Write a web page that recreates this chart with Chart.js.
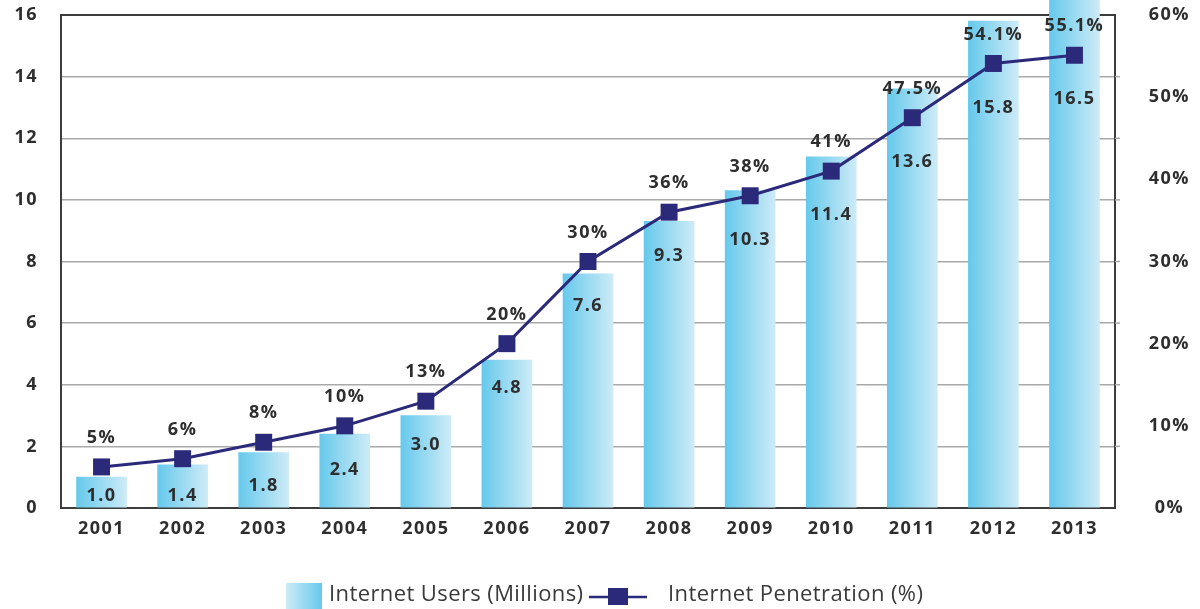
<!DOCTYPE html>
<html>
<head>
<meta charset="utf-8">
<script src="https://cdn.jsdelivr.net/npm/chart.js@4.4.1/dist/chart.umd.min.js"></script>
<style>
  html, body { margin: 0; padding: 0; background: #ffffff; }
  #wrap { width: 1200px; height: 609px; }
</style>
</head>
<body>
<div id="wrap"><canvas id="chart" width="1200" height="609"></canvas></div>
<script>
// Internet users and penetration, 2001-2013
const years = ['2001', '2002', '2003', '2004', '2005', '2006', '2007', '2008', '2009', '2010', '2011', '2012', '2013'];
const usersMillions = [1.0, 1.4, 1.8, 2.4, 3.0, 4.8, 7.6, 9.3, 10.3, 11.4, 13.6, 15.8, 16.5];
const penetrationPct = [5, 6, 8, 10, 13, 20, 30, 36, 38, 41, 47.5, 54.1, 55.1];
const usersTicks = [0, 2, 4, 6, 8, 10, 12, 14, 16];
const pctTicks = [0, 10, 20, 30, 40, 50, 60];

const usersLabel = 'Internet Users (Millions)';
const pctLabel = 'Internet Penetration (%)';

const NAVY = '#2b2a7a';
const TEXT = '#2e2e2e';
const FRAME = '#3c3c3c';
const GRID = '#a9a9a9';
const BAR_DARK = '#66c9ec';
const BAR_LIGHT = '#cdebf7';
const BOLD_FONT = { family: '"Open Sans", "DejaVu Sans", sans-serif', size: 18, weight: '700' };

// Horizontal cyan fade across each bar
function barGradient(context) {
  const chart = context.chart;
  const xs = chart.scales.x;
  if (!chart.chartArea || !xs) return BAR_DARK;
  const cx = xs.getPixelForValue(context.dataIndex);
  const g = chart.ctx.createLinearGradient(cx - 25, 0, cx + 25, 0);
  g.addColorStop(0, BAR_DARK);
  g.addColorStop(1, BAR_LIGHT);
  return g;
}

// Vertical axes take no extra room above or below the plot
function noVerticalPadding(s) {
  s.paddingTop = 0;
  s.paddingBottom = 0;
}

// Letter spacing for all canvas text
const spacingPlugin = {
  id: 'spacing',
  beforeDraw(chart) { chart.ctx.letterSpacing = '1.5px'; }
};

// Top edge of the frame and small grid stubs past the right edge
const framePlugin = {
  id: 'frame',
  beforeDatasetsDraw(chart) {
    const { ctx, chartArea: a } = chart;
    const ys = chart.scales.y;
    ctx.save();
    ctx.strokeStyle = GRID;
    ctx.lineWidth = 1.5;
    usersTicks.forEach(v => {
      if (v === 0 || v === 16) return;
      const py = ys.getPixelForValue(v);
      ctx.beginPath();
      ctx.moveTo(a.right, py);
      ctx.lineTo(a.right + 5, py);
      ctx.stroke();
    });
    ctx.strokeStyle = FRAME;
    ctx.lineWidth = 2;
    ctx.beginPath();
    ctx.moveTo(a.left - 1, a.top);
    ctx.lineTo(a.right + 1, a.top);
    ctx.stroke();
    ctx.restore();
  }
};

// Value labels: percentage above each marker, user count inside each bar
const valueLabelPlugin = {
  id: 'valueLabels',
  afterDatasetsDraw(chart) {
    const { ctx, chartArea: a } = chart;
    const xs = chart.scales.x;
    const y2 = chart.scales.y2;
    ctx.save();
    ctx.font = `${BOLD_FONT.weight} ${BOLD_FONT.size}px ${BOLD_FONT.family}`;
    ctx.fillStyle = TEXT;
    ctx.textAlign = 'center';
    ctx.textBaseline = 'middle';
    years.forEach((yr, i) => {
      const px = xs.getPixelForValue(i);
      const my = y2.getPixelForValue(penetrationPct[i]);
      ctx.fillText(penetrationPct[i] + '%', px, my - 29);
      const by = Math.min(my + 44, a.bottom - 12);
      ctx.fillText(usersMillions[i].toFixed(1), px, by);
    });
    ctx.restore();
  }
};

// Legend along the bottom edge
const legendPlugin = {
  id: 'bottomLegend',
  afterDraw(chart) {
    const ctx = chart.ctx;
    ctx.save();
    ctx.letterSpacing = '0.4px';
    const sw = ctx.createLinearGradient(286, 0, 322, 0);
    sw.addColorStop(0, BAR_LIGHT);
    sw.addColorStop(1, BAR_DARK);
    ctx.fillStyle = sw;
    ctx.fillRect(286, 583, 36, 26);

    ctx.font = '400 22px "Open Sans", "DejaVu Sans", sans-serif';
    ctx.fillStyle = '#3a3a3a';
    ctx.textAlign = 'left';
    ctx.textBaseline = 'middle';
    ctx.fillText(usersLabel, 329, 595);

    ctx.strokeStyle = NAVY;
    ctx.lineWidth = 2.5;
    ctx.beginPath();
    ctx.moveTo(589, 597);
    ctx.lineTo(647, 597);
    ctx.stroke();
    ctx.fillStyle = NAVY;
    ctx.fillRect(608, 588, 20, 17);

    ctx.fillStyle = '#3a3a3a';
    ctx.fillText(pctLabel, 668, 595);
    ctx.restore();
  }
};

new Chart(document.getElementById('chart'), {
  data: {
    labels: years,
    datasets: [
      {
        type: 'line',
        label: pctLabel,
        data: penetrationPct,
        yAxisID: 'y2',
        borderColor: NAVY,
        borderWidth: 3,
        backgroundColor: NAVY,
        pointStyle: 'rect',
        pointRadius: 12,
        pointBackgroundColor: NAVY,
        pointBorderColor: NAVY,
        pointBorderWidth: 0,
        tension: 0,
        order: 1,
        clip: false
      },
      {
        type: 'bar',
        label: usersLabel,
        data: usersMillions,
        yAxisID: 'y',
        backgroundColor: barGradient,
        borderWidth: 0,
        barThickness: 50,
        order: 2,
        clip: false
      }
    ]
  },
  options: {
    responsive: false,
    devicePixelRatio: 1,
    animation: false,
    layout: { padding: { top: 15, left: 0, right: 0, bottom: 0 } },
    plugins: {
      legend: { display: false },
      tooltip: { enabled: false }
    },
    scales: {
      x: {
        offset: true,
        grid: { display: false, drawTicks: false },
        border: { display: true, color: FRAME, width: 2 },
        ticks: { color: TEXT, font: BOLD_FONT, padding: 10, maxRotation: 0 },
        afterFit(s) { s.height = 101; s.paddingLeft = 0; s.paddingRight = 0; }
      },
      y: {
        position: 'left',
        min: 0,
        max: 16,
        afterBuildTicks(s) { s.ticks = usersTicks.map(v => ({ value: v })); },
        grid: { color: GRID, lineWidth: 1.5, drawTicks: false },
        border: { display: true, color: FRAME, width: 2 },
        ticks: { color: TEXT, font: BOLD_FONT, padding: 23 },
        afterFit(s) { s.width = 61; noVerticalPadding(s); }
      },
      y2: {
        position: 'right',
        min: 0,
        max: 60,
        afterBuildTicks(s) { s.ticks = pctTicks.map(v => ({ value: v })); },
        grid: { drawOnChartArea: false, drawTicks: false },
        border: { display: true, color: FRAME, width: 2 },
        ticks: { color: TEXT, font: BOLD_FONT, padding: 36, crossAlign: 'center', callback: v => v + '%' },
        afterFit(s) { s.width = 85; noVerticalPadding(s); }
      }
    }
  },
  plugins: [spacingPlugin, framePlugin, valueLabelPlugin, legendPlugin]
});
</script>
</body>
</html>
